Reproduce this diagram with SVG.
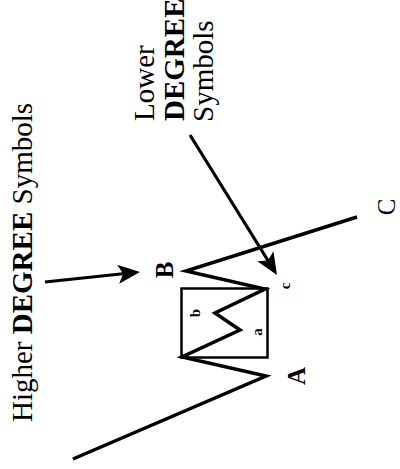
<svg xmlns="http://www.w3.org/2000/svg" width="400" height="469" viewBox="0 0 400 469">
<style>
.t{font-family:"Liberation Serif","Times New Roman",serif;fill:#000}
.big{font-size:29px}
.b{font-weight:bold}
.lab{font-size:25px;font-weight:bold}
.sm{font-size:15px;font-weight:bold}
.wave{fill:none;stroke:#000;stroke-width:3.5;stroke-linejoin:miter;stroke-miterlimit:10}
.box{fill:none;stroke:#000;stroke-width:2.5}
.arr{fill:none;stroke:#000;stroke-width:3.2}
</style>
<defs>
<marker id="ah" markerUnits="userSpaceOnUse" markerWidth="24" markerHeight="22" refX="12" refY="9.5" orient="auto">
<path d="M0,0 L22,9.5 L0,19 L5,9.5 z" fill="#000"/>
</marker>
</defs>
<rect width="400" height="469" fill="#fff"/>
<g id="wave">
<rect class="box" x="181.5" y="288.5" width="86" height="69"/>
<path class="wave" d="M73,459 L266,376 L182,357 L240,330 L215,313 L265,289 L186,271 L357,217"/>
</g>
<g id="label-A"><text class="t lab" text-anchor="middle" transform="translate(305,376) rotate(-90)">A</text></g>
<g id="label-B"><text class="t lab" text-anchor="middle" transform="translate(173,270) rotate(-90)">B</text></g>
<g id="label-C"><text class="t" font-size="25" text-anchor="middle" transform="translate(395,207) rotate(-90)">C</text></g>
<g id="label-a"><text class="t sm" text-anchor="middle" transform="translate(262,332) rotate(-90)">a</text></g>
<g id="label-b"><text class="t sm" text-anchor="middle" transform="translate(200,313) rotate(-90)">b</text></g>
<g id="label-c"><text class="t sm" text-anchor="middle" transform="translate(290,286) rotate(-90)">c</text></g>
<g id="higher-note"><text class="t big" transform="translate(32,422) rotate(-90)">Higher <tspan class="b">DEGREE</tspan> Symbols</text></g>
<g id="lower-note">
<text class="t big" transform="translate(154,121) rotate(-90)">Lower</text>
<text class="t big b" transform="translate(184,121) rotate(-90)">DEGREE</text>
<text class="t big" transform="translate(213,122) rotate(-90)">Symbols</text>
</g>
<g id="connectors">
<line class="arr" x1="45" y1="282" x2="130.1" y2="273" marker-end="url(#ah)"/>
<line class="arr" x1="190" y1="135" x2="271.7" y2="266.5" marker-end="url(#ah)"/>
</g>
</svg>
